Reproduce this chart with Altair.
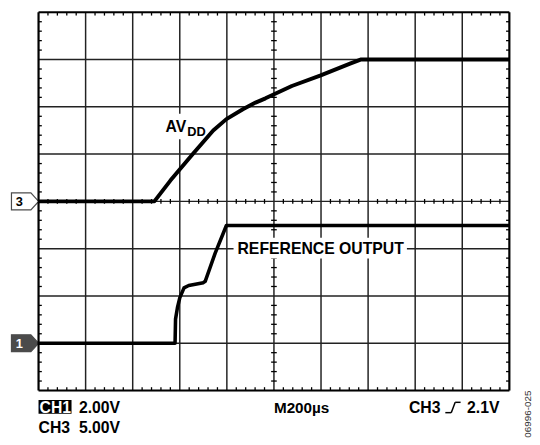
import altair as alt
import pandas as pd

# ---- trace data (in screen divisions: x 0..10, y 0..8) ----
avdd_x = [0.0, 2.46, 2.80, 3.29, 3.71, 3.99, 4.34, 4.61, 4.82, 5.38, 5.98, 6.63, 6.84, 10.0]
avdd_y = [4.0, 4.0, 4.44, 5.02, 5.50, 5.74, 5.95, 6.09, 6.18, 6.44, 6.66, 6.92, 7.0, 7.0]

ref_x = [0.0, 2.90, 2.91, 2.95, 3.00, 3.09, 3.19, 3.50, 3.54, 3.75, 3.99, 10.0]
ref_y = [1.0, 1.0, 1.51, 1.75, 1.96, 2.17, 2.22, 2.28, 2.31, 2.90, 3.49, 3.49]

grid_x = list(range(0, 11))
grid_y = list(range(0, 9))
ground_levels = [4.0, 1.0]
channel_labels = ["3", "1"]

FONT = "Liberation Sans"
W, H = 478, 384
xs = alt.Scale(domain=[0, 10], nice=False, zero=False, padding=0)
ys = alt.Scale(domain=[0, 8], nice=False, zero=False, padding=0)

def X(f="x"):
    return alt.X(f"{f}:Q", scale=xs, axis=None)

def Y(f="y"):
    return alt.Y(f"{f}:Q", scale=ys, axis=None)

one = pd.DataFrame({"a": [0]})

# ---- grid ----
inner_vx = pd.DataFrame({"x": [v for v in grid_x if 0 < v < 10]})
inner_hy = pd.DataFrame({"y": [v for v in grid_y if 0 < v < 8]})
vgrid = alt.Chart(inner_vx).mark_rule(color="#222222", strokeWidth=1.5).encode(x=X())
hgrid = alt.Chart(inner_hy).mark_rule(color="#222222", strokeWidth=1.5).encode(y=Y())
border_v = alt.Chart(pd.DataFrame({"x": [0, 10]})).mark_rule(color="black", strokeWidth=2.2).encode(x=X())
border_h = alt.Chart(pd.DataFrame({"y": [0, 8]})).mark_rule(color="black", strokeWidth=2.2).encode(y=Y())

# minor ticks (graticule, every 0.2 division)
segs = []
tx = [i / 5 for i in range(1, 50) if i % 5 != 0]
ty = [i / 5 for i in range(1, 40) if i % 5 != 0]
tl = 0.07
for v in tx:
    segs.append((v, v, 8, 8 - tl))
    segs.append((v, v, 0, tl))
    segs.append((v, v, 4 - 0.05, 4 + 0.05))
for v in ty:
    segs.append((0, tl, v, v))
    segs.append((10, 10 - tl, v, v))
    segs.append((5 - 0.06, 5 + 0.06, v, v))
ticks_df = pd.DataFrame(segs, columns=["x", "x2", "y", "y2"])
ticks = alt.Chart(ticks_df).mark_rule(color="black", strokeWidth=1.3).encode(
    x=X(), x2="x2:Q", y=Y(), y2="y2:Q")

# ---- label backgrounds ----
def bg(x0, x1, y0, y1, color="white"):
    return alt.Chart(one).mark_rect(color=color).encode(
        x=alt.value(x0), x2=alt.value(x1), y=alt.value(y0), y2=alt.value(y1))

bg_avdd = bg(125, 171, 103, 129)
bg_ref = bg(198, 374, 229, 250)

# ---- traces ----
avdd = alt.Chart(pd.DataFrame({"x": avdd_x, "y": avdd_y})).mark_line(
    color="black", strokeWidth=4, strokeJoin="round").encode(x=X(), y=Y())
ref = alt.Chart(pd.DataFrame({"x": ref_x, "y": ref_y})).mark_line(
    color="black", strokeWidth=3.6, strokeJoin="round").encode(x=X(), y=Y())

# ---- texts ----
def txt(s, x, y, size=16, color="black", weight="bold", align="left", baseline="alphabetic", angle=0):
    kw = dict(font=FONT, fontSize=size, fontWeight=weight, color=color,
              align=align, baseline=baseline)
    if angle:
        kw["angle"] = angle
    return alt.Chart(pd.DataFrame({"t": [s]})).mark_text(**kw).encode(
        x=alt.value(x), y=alt.value(y), text="t:N")

labels = [
    txt("AV", 129, 121.5),
    txt("DD", 151, 125.5, size=13),
    txt("REFERENCE OUTPUT", 202, 245.5, size=16),
    bg(0, 33.5, 393.7, 407.7, color="black"),
    txt("CH1", 1.0, 406.5, color="white"),
    txt("2.00V", 41, 406.5),
    txt("CH3", 0, 427),
    txt("5.00V", 41, 427),
    txt("M200µs", 239, 406.5, size=15.5),
    txt("CH3", 376, 407),
    txt("2.1V", 435, 407),
    txt("06996-025", 497, 408, size=10, weight="normal", color="#333333",
        align="center", baseline="middle", angle=270),
]

# trigger edge symbol
trig = []
for (a, b, c, d) in [(413, 419, 406.5, 406.5), (419, 423, 406.5, 396), (423, 428.5, 396, 396)]:
    trig.append(alt.Chart(one).mark_rule(color="black", strokeWidth=1.5).encode(
        x=alt.value(a), x2=alt.value(b), y=alt.value(c), y2=alt.value(d)))

# ---- channel ground markers ----
marker_shape = "M-1,-0.62 L0.43,-0.62 L1,0 L0.43,0.62 L-1,0.62 Z"
mk_df = pd.DataFrame({"y": ground_levels, "lab": channel_labels,
                      "fill": ["white", "black"], "tc": ["black", "white"]})
markers = alt.Chart(mk_df).mark_point(shape=marker_shape, size=760, filled=True,
                                      stroke="black", strokeWidth=1.2).encode(
    x=alt.value(-13.7), y=Y(),
    fill=alt.Fill("fill:N", scale=None))
marker_text = alt.Chart(mk_df).mark_text(font=FONT, fontSize=13, fontWeight="bold",
                                         align="center", baseline="middle", dy=1).encode(
    x=alt.value(-19.5), y=Y(), text="lab:N", color=alt.Color("tc:N", scale=None))

chart = alt.layer(
    vgrid, hgrid, ticks, bg_avdd, bg_ref, border_v, border_h, avdd, ref,
    markers, marker_text, *labels, *trig
).properties(
    width=W, height=H,
    padding={"left": 31, "top": 1, "right": 23, "bottom": 52},
    autosize=alt.AutoSizeParams(type="none"),
).configure_view(stroke=None).configure(background="white")

chart.save("out.html", embed_options={"renderer": "svg", "actions": False})
